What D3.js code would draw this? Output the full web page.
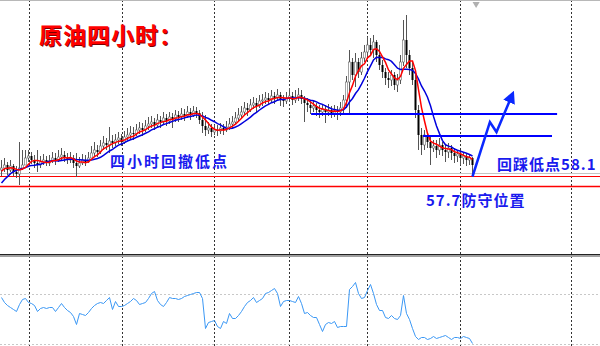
<!DOCTYPE html>
<html>
<head>
<meta charset="utf-8">
<script src="https://cdn.jsdelivr.net/npm/d3@7"></script>
<style>
  body { margin: 0; background: #fff; }
  svg { display: block; }
</style>
</head>
<body>
<div id="chart"></div>
<script>
// closes before the visible window, only used to seed the moving averages
const history = [57.16, 57.24, 57.36, 57.48, 57.64, 58.04, 58.28, 58.44, 58.36];

const opens = [
  58.36, 58.44, 58.56, 58.36, 58.52, 58.28, 58.20, 58.44, 58.56, 58.84,
  58.92, 58.76, 58.64, 58.56, 58.68, 58.76, 58.64, 58.72, 58.84, 58.76,
  58.88, 58.96, 58.84, 58.76, 58.84, 58.64, 58.52, 58.64, 58.76, 58.68,
  58.84, 59.04, 59.16, 59.08, 59.32, 59.44, 59.36, 59.52, 59.44, 59.56,
  59.64, 59.48, 59.68, 59.76, 59.84, 59.80, 59.96, 60.04, 59.96, 60.12,
  60.20, 60.28, 60.16, 60.36, 60.28, 60.44, 60.32, 60.48, 60.40, 60.56,
  60.48, 60.60, 60.52, 60.68, 60.56, 60.72, 60.64, 60.36, 60.12, 59.96,
  60.04, 59.88, 59.96, 59.92, 60.04, 59.96, 60.08, 60.20, 60.28, 60.44,
  60.56, 60.68, 60.84, 60.76, 60.96, 61.04, 60.92, 61.12, 61.16, 61.24,
  61.16, 61.32, 61.24, 61.36, 61.20, 61.12, 61.24, 61.32, 61.16, 61.28,
  61.36, 61.20, 61.04, 60.96, 60.84, 60.92, 60.76, 60.68, 60.80, 60.68,
  60.76, 60.64, 60.72, 60.68, 60.84, 61.16, 61.88, 62.68, 62.16, 62.68,
  62.28, 62.84, 63.08, 63.36, 63.16, 63.48, 62.96, 62.56, 62.28, 62.04,
  61.96, 62.16, 61.76, 61.96, 62.68, 63.56, 62.96, 62.44, 61.96, 60.76,
  59.76, 59.36, 59.76, 59.48, 59.24, 59.32, 59.16, 59.36, 59.16, 59.08,
  59.24, 59.04, 58.92, 59.00, 58.84, 58.92, 58.76, 58.84
];
const highs = [
  58.76, 58.84, 58.68, 58.76, 58.60, 58.52, 59.48, 59.16, 59.16, 59.16,
  59.08, 58.96, 59.16, 58.92, 59.00, 58.92, 58.96, 59.08, 59.04, 59.16,
  59.24, 59.12, 59.04, 59.08, 58.96, 59.04, 58.88, 59.00, 58.96, 59.08,
  59.32, 59.48, 59.36, 59.56, 59.72, 59.64, 60.08, 59.76, 59.80, 59.88,
  59.80, 59.92, 60.04, 60.12, 60.08, 60.20, 60.28, 60.24, 60.36, 60.48,
  60.52, 60.44, 60.60, 60.52, 60.68, 60.60, 60.68, 60.64, 60.76, 60.72,
  60.84, 60.80, 60.92, 60.84, 60.92, 60.88, 60.76, 60.68, 60.56, 60.28,
  60.20, 60.16, 60.16, 60.24, 60.20, 60.32, 60.44, 60.52, 60.68, 60.84,
  60.92, 61.08, 61.04, 61.20, 61.28, 61.24, 61.36, 61.40, 61.48, 61.44,
  61.56, 61.48, 61.60, 61.48, 61.36, 61.48, 61.64, 61.48, 61.56, 61.64,
  61.56, 61.32, 61.24, 61.16, 61.12, 61.04, 60.96, 61.00, 60.96, 61.00,
  60.92, 60.96, 60.92, 61.08, 61.36, 62.12, 63.16, 62.84, 63.04, 62.84,
  63.08, 63.36, 63.68, 63.64, 63.76, 63.56, 63.36, 62.76, 62.44, 62.28,
  62.36, 62.28, 62.20, 62.96, 64.36, 64.56, 63.16, 62.68, 62.16, 60.96,
  60.04, 59.96, 59.88, 59.72, 59.56, 59.56, 59.64, 59.48, 59.36, 59.44,
  59.36, 59.24, 59.16, 59.16, 59.08, 59.04, 59.00, 58.88
];
const lows = [
  58.12, 58.28, 58.16, 58.28, 58.12, 58.04, 57.76, 58.36, 58.64, 58.68,
  58.60, 58.44, 58.28, 58.44, 58.56, 58.52, 58.52, 58.64, 58.56, 58.68,
  58.76, 58.68, 58.60, 58.64, 58.44, 58.08, 58.44, 58.56, 58.52, 58.64,
  58.84, 58.92, 58.88, 59.00, 59.16, 59.16, 59.04, 59.24, 59.32, 59.40,
  59.32, 59.40, 59.56, 59.60, 59.56, 59.72, 59.80, 59.72, 59.88, 59.96,
  60.04, 59.96, 60.08, 60.04, 60.20, 60.12, 60.20, 60.04, 60.28, 60.28,
  60.36, 60.32, 60.44, 60.36, 60.48, 60.44, 60.20, 59.84, 59.72, 59.80,
  59.68, 59.76, 59.72, 59.80, 59.76, 59.88, 59.96, 60.04, 60.20, 60.32,
  60.44, 60.56, 60.52, 60.68, 60.80, 60.68, 60.84, 60.92, 61.00, 60.96,
  61.08, 61.00, 61.16, 60.92, 60.88, 61.00, 61.08, 60.96, 61.04, 61.12,
  61.00, 60.28, 60.68, 60.60, 60.68, 60.52, 60.44, 60.52, 60.24, 60.52,
  60.44, 60.48, 60.36, 60.52, 60.60, 60.84, 60.64, 61.96, 61.68, 62.04,
  62.16, 62.68, 62.84, 62.96, 62.84, 62.68, 62.36, 62.04, 61.76, 61.64,
  61.72, 61.56, 61.48, 61.80, 62.52, 62.44, 62.16, 61.76, 60.44, 59.16,
  58.96, 59.16, 59.24, 58.56, 59.08, 58.84, 58.96, 58.92, 58.68, 58.84,
  58.76, 58.64, 58.68, 58.56, 58.60, 58.52, 58.56, 58.10
];
const closes = [
  58.44, 58.56, 58.36, 58.52, 58.28, 58.20, 58.44, 58.56, 58.84, 58.92,
  58.76, 58.64, 58.56, 58.68, 58.76, 58.64, 58.72, 58.84, 58.76, 58.88,
  58.96, 58.84, 58.76, 58.84, 58.64, 58.52, 58.64, 58.76, 58.68, 58.84,
  59.04, 59.16, 59.08, 59.32, 59.44, 59.36, 59.52, 59.44, 59.56, 59.64,
  59.48, 59.68, 59.76, 59.84, 59.80, 59.96, 60.04, 59.96, 60.12, 60.20,
  60.28, 60.16, 60.36, 60.28, 60.44, 60.32, 60.48, 60.40, 60.56, 60.48,
  60.60, 60.52, 60.68, 60.56, 60.72, 60.64, 60.36, 60.12, 59.96, 60.04,
  59.88, 59.96, 59.92, 60.04, 59.96, 60.08, 60.20, 60.28, 60.44, 60.56,
  60.68, 60.84, 60.76, 60.96, 61.04, 60.92, 61.12, 61.16, 61.24, 61.16,
  61.32, 61.24, 61.36, 61.20, 61.12, 61.24, 61.32, 61.16, 61.28, 61.36,
  61.20, 61.04, 60.96, 60.84, 60.92, 60.76, 60.68, 60.80, 60.68, 60.76,
  60.64, 60.72, 60.68, 60.84, 61.16, 61.88, 62.68, 62.16, 62.68, 62.28,
  62.84, 63.08, 63.36, 63.16, 63.48, 62.96, 62.56, 62.28, 62.04, 61.96,
  62.16, 61.76, 61.96, 62.68, 63.56, 62.96, 62.44, 61.96, 60.76, 59.76,
  59.36, 59.76, 59.48, 59.24, 59.32, 59.16, 59.36, 59.16, 59.08, 59.24,
  59.04, 58.92, 59.00, 58.84, 58.92, 58.76, 58.84, 58.56
];

// oscillator in the lower window
const oscValues = [
  66.8, 62.8, 60.4, 58.8, 57.2, 55.6, 61.2, 65.2, 66, 62.8,
  62, 60.4, 55.6, 58, 58.8, 58, 58.8, 58.8, 55.6, 58.8,
  62, 58.8, 56.4, 54.8, 51.6, 45.2, 54, 53.2, 52.4, 54.8,
  58, 60.4, 62, 62.8, 62, 64.4, 66.8, 57.2, 63.6, 59.6,
  59.6, 60.4, 62, 63.6, 66, 64.4, 61.2, 62, 62.8, 66,
  70, 71.6, 64.4, 61.2, 59.6, 62.8, 66.8, 66, 66, 65.2,
  66, 67.6, 68.4, 69.2, 70, 70.8, 70.8, 66, 42, 46.8,
  47.6, 48.4, 43.6, 42, 47.6, 46, 54, 50, 50, 52.4,
  55.6, 59.6, 62.8, 64.4, 66.8, 62.8, 64.4, 66, 70, 70.8,
  72.4, 74, 70, 59.6, 63.6, 64.4, 64.4, 63.6, 62.8, 67.6,
  62, 54, 54.8, 52.4, 50.8, 50.8, 45.2, 39.6, 45.2, 46.8,
  46, 47.6, 42.8, 43.6, 43.6, 43.6, 73.2, 75.6, 78.8, 70,
  66, 66.8, 72.4, 77.2, 70, 61.2, 56.4, 56.4, 50.8, 50,
  52.4, 50, 49.2, 52.4, 68.4, 54, 49.2, 42, 35.6, 33.2,
  34.8, 34.8, 33.2, 34, 35.6, 34, 34.8, 35.6, 36.4, 34.8,
  33.2, 34.8, 34.8, 34, 35.6, 34.8, 34, 30
];
const oscLevels = [70, 30];

// period separators, in bar numbers
const gridBars = [9.2, 40, 70.8, 95.8, 121.8, 152.8, 189.7];

// hand drawn marks
const redLevels = [58.1, 57.7];
const bidPrice = 58.22;
const blueLevels = [
  {price: 60.60, from: 103.2, to: 185.2},
  {price: 59.72, from: 140.5, to: 183.5}
];
const arrowPoints = [[157, 58.10], [162.8, 60.28], [165, 59.88], [170, 61.30]];
const notes = [
  {text: "四小时回撤低点", bar: 36.2, price: 58.48},
  {text: "回踩低点58.1", bar: 165.2, price: 58.36},
  {text: "57.7防守位置", bar: 141.5, price: 56.92}
];
const title = "原油四小时：";

const width = 600, height = 346, mainBottom = 254;

const x = d3.scaleLinear().domain([0, 199]).range([1.5, 598.5]);
const y = d3.scaleLinear().domain([55, 65.16]).range([mainBottom, 0]);
const yOsc = d3.scaleLinear().domain([30, 70]).range([343.5, 293.5]);

const allCloses = history.concat(closes);
function sma(n) {
  return closes.map((c, i) => {
    const k = i + history.length;
    return d3.mean(allCloses.slice(Math.max(0, k - n + 1), k + 1));
  });
}
const maFast = sma(5);
const maSlow = sma(10);

const svg = d3.select("#chart").append("svg")
  .attr("width", width)
  .attr("height", height);

svg.append("rect").attr("width", width).attr("height", height).attr("fill", "#fff");

svg.append("clipPath").attr("id", "main-clip")
  .append("rect").attr("width", width).attr("height", mainBottom);

// dotted separators through both windows
svg.append("g").selectAll("line").data(gridBars).join("line")
  .attr("x1", d => Math.round(x(d)) + 0.5)
  .attr("x2", d => Math.round(x(d)) + 0.5)
  .attr("y1", 0).attr("y2", height)
  .attr("stroke", "#333")
  .attr("stroke-dasharray", "2,2");

const main = svg.append("g").attr("clip-path", "url(#main-clip)");

// bid line and the two red levels
main.append("line")
  .attr("x1", 0).attr("x2", width)
  .attr("y1", y(bidPrice)).attr("y2", y(bidPrice))
  .attr("stroke", "#c4c4c4").attr("stroke-width", 1);

main.append("g").selectAll("line").data(redLevels).join("line")
  .attr("x1", 0).attr("x2", width)
  .attr("y1", d => y(d)).attr("y2", d => y(d))
  .attr("stroke", "#ff0000")
  .attr("stroke-width", (d, i) => i == 0 ? 1 : 1.4);

// candles
const bars = d3.range(closes.length);
const candles = main.append("g");
candles.selectAll("line").data(bars).join("line")
  .attr("x1", i => x(i)).attr("x2", i => x(i))
  .attr("y1", i => y(highs[i])).attr("y2", i => y(lows[i]))
  .attr("stroke", "#555").attr("stroke-width", 1);
candles.selectAll("rect").data(bars).join("rect")
  .attr("x", i => x(i) - 1)
  .attr("width", 2)
  .attr("y", i => y(Math.max(opens[i], closes[i])))
  .attr("height", i => Math.max(1, Math.abs(y(opens[i]) - y(closes[i]))))
  .attr("fill", i => closes[i] < opens[i] ? "#000" : "#fff")
  .attr("stroke", i => closes[i] < opens[i] ? "none" : "#666")
  .attr("stroke-width", 0.6);

// moving averages
const maLine = d3.line().x((d, i) => x(i)).y(d => y(d));
main.append("path").datum(maSlow)
  .attr("fill", "none").attr("stroke", "#0000dd").attr("stroke-width", 1.5)
  .attr("d", maLine);
main.append("path").datum(maFast)
  .attr("fill", "none").attr("stroke", "#ff0000").attr("stroke-width", 1.5)
  .attr("d", maLine);

// blue levels
main.append("g").selectAll("line").data(blueLevels).join("line")
  .attr("x1", d => x(d.from)).attr("x2", d => x(d.to))
  .attr("y1", d => y(d.price)).attr("y2", d => y(d.price))
  .attr("stroke", "#0000ff").attr("stroke-width", 2);

// zigzag arrow
svg.append("defs").append("marker")
  .attr("id", "head")
  .attr("viewBox", "0 0 10 10")
  .attr("refX", 5).attr("refY", 5)
  .attr("markerWidth", 5).attr("markerHeight", 5)
  .attr("markerUnits", "strokeWidth")
  .attr("orient", "auto")
  .append("path").attr("d", "M0,0 L10,5 L0,10 z").attr("fill", "#0a28ff");

main.append("path").datum(arrowPoints)
  .attr("fill", "none")
  .attr("stroke", "#0a28ff")
  .attr("stroke-width", 2.5)
  .attr("stroke-linejoin", "miter")
  .attr("marker-end", "url(#head)")
  .attr("d", d3.line().x(d => x(d[0])).y(d => y(d[1])));

// chart shift marker at the top
svg.append("path")
  .attr("d", d3.symbol().type(d3.symbolTriangle).size(22))
  .attr("transform", `translate(${x(158.2)},4) rotate(180)`)
  .attr("fill", "#b0b0b0");

// texts
const cjk = "'Noto Sans CJK SC', 'Noto Sans', sans-serif";
svg.append("text")
  .attr("x", 40).attr("y", 45)
  .attr("font-family", cjk).attr("font-size", 23).attr("font-weight", "bold")
  .attr("letter-spacing", 1)
  .attr("fill", "#7a0000")
  .text(title);
svg.append("text")
  .attr("x", 39).attr("y", 44)
  .attr("font-family", cjk).attr("font-size", 23).attr("font-weight", "bold")
  .attr("letter-spacing", 1)
  .attr("fill", "#ff0000")
  .text(title);

svg.append("g").selectAll("text").data(notes).join("text")
  .attr("x", d => x(d.bar))
  .attr("y", d => y(d.price))
  .attr("font-family", cjk)
  .attr("font-size", 15)
  .attr("font-weight", "bold")
  .attr("letter-spacing", (d, i) => i == 0 ? 2 : 1)
  .attr("fill", "#1a1aee")
  .text(d => d.text);

// window separator
svg.append("rect").attr("x", 0).attr("y", mainBottom).attr("width", width).attr("height", 1).attr("fill", "#222");
svg.append("rect").attr("x", 0).attr("y", mainBottom + 1).attr("width", width).attr("height", 2).attr("fill", "#a0a0a0");
svg.append("line").attr("x1", 0).attr("x2", width).attr("y1", 0.5).attr("y2", 0.5).attr("stroke", "#b8b8b8");

// oscillator window
svg.append("g").selectAll("line").data(oscLevels).join("line")
  .attr("x1", 0).attr("x2", width)
  .attr("y1", d => Math.round(yOsc(d)) + 0.5).attr("y2", d => Math.round(yOsc(d)) + 0.5)
  .attr("stroke", "#c8c8c8")
  .attr("stroke-dasharray", "2,2");

svg.append("path").datum(oscValues)
  .attr("fill", "none")
  .attr("stroke", "#3b98f5")
  .attr("stroke-width", 1)
  .attr("d", d3.line().x((d, i) => x(i)).y(d => yOsc(d)));
</script>
</body>
</html>
